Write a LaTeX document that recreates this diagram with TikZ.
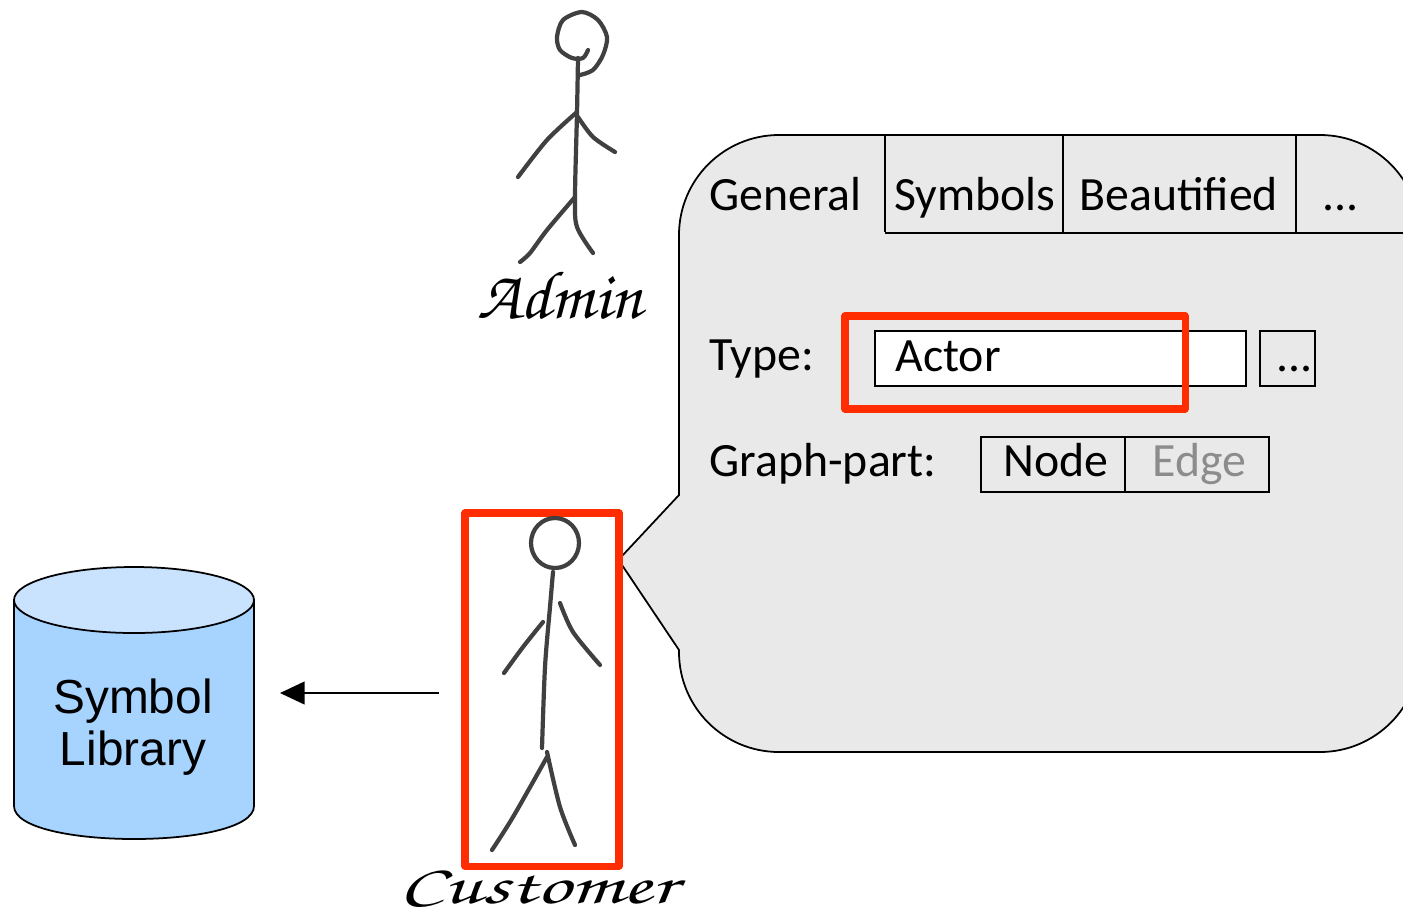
\documentclass[tikz,border=0pt]{standalone}
\usepackage{fontspec}
\setmainfont{Carlito}
\newfontfamily\libfont{Liberation Sans}
\usetikzlibrary{arrows.meta}
\definecolor{markred}{RGB}{255,45,0}
\definecolor{libbody}{RGB}{167,211,255}
\definecolor{libtop}{RGB}{201,227,255}
\tikzset{
  uitext/.style={anchor=base west, inner sep=0pt, font=\fontsize{27.2}{30}\selectfont},
  uibox/.style={draw=black, line width=1pt, inner sep=0pt, minimum height=55*0.02cm},
  redbox/.style={draw=markred, line width=4pt, line join=round, inner sep=0pt},
  sketch/.style={line width=2.4pt, draw=black!75, line cap=round, line join=round},
  hand/.style={inner sep=0pt, font=\fontencoding{T1}\fontfamily{pzc}\fontseries{m}\fontshape{it}\fontsize{37}{37}\selectfont}
}
\begin{document}
\begin{tikzpicture}[x=0.02cm,y=-0.02cm]
\useasboundingbox (0,0) rectangle (1403,914);
\clip (0,0) rectangle (1403,914);

% callout
\draw[fill=black!8.5, line width=1pt] (622,556) -- (679,495) [rounded corners=2cm] -- (679,135) -- (1420,135) -- (1420,752) -- (679,752) [sharp corners] -- (679,650) -- (622,565);
\draw[line width=1pt] (885,135) -- (885,232);
\draw[line width=1pt] (1063,135) -- (1063,232);
\draw[line width=1pt] (1296,135) -- (1296,232);
\draw[line width=1.2pt] (885,233) -- (1403,233);

\node[uitext] (general) at (709,210) {General};
\node[uitext] (symbols) at (894,210) {Symbols};
\node[uitext] (beautified) at (1079,210) {Beautified};
\node[uitext] (moretabs) at (1322,210) {...};
\node[uitext] (typelabel) at (709,370) {Type:};
\node[uitext] (partlabel) at (709,476) {Graph-part:};

\node[uibox, fill=white, minimum width=371*0.02cm] (typefield) at (1060.5,358.5) {};
\node[uibox, minimum width=55*0.02cm] (typebtn) at (1287.5,358.5) {};
\node[uibox, minimum width=144*0.02cm] (nodebtn) at (1053,464.5) {};
\node[uibox, minimum width=144*0.02cm] (edgebtn) at (1197,464.5) {};
\node[uitext] (actor) at (895,371) {Actor};
\node[uitext] (dots) at (1276,371) {...};
\node[uitext] (nodetxt) at (1003,476) {Node};
\node[uitext, text=black!45] (edgetxt) at (1152,476) {Edge};

\node[redbox, minimum width=340*0.02cm, minimum height=93*0.02cm] (typemark) at (1015,362.5) {};
\node[redbox, minimum width=154*0.02cm, minimum height=353*0.02cm] (customermark) at (542,689.5) {};

% library
\fill[libbody] (14,600) -- (14,806) .. controls (14,850) and (254,850) .. (254,806) -- (254,600) -- cycle;
\draw[line width=1pt] (14,600) -- (14,806) .. controls (14,850) and (254,850) .. (254,806) -- (254,600);
\draw[line width=1pt, fill=libtop] (134,600) ellipse (120 and 33);
\node[inner sep=0pt, align=center, font=\libfont\fontsize{27.2}{30}\selectfont] (library) at (133,727) {Symbol\\Library};

\coordinate (arrowtail) at (439,693);
\coordinate (arrowend) at (280,693);
\draw[-{Triangle[length=14pt,width=13pt]}, line width=.8pt] (arrowtail) -- (arrowend);

% admin
\draw[sketch] plot[smooth] coordinates {(588,50) (583,58) (572,58) (560,50) (557,37) (563,20) (582,12) (598,20) (607,37) (603,55) (593,70) (580,75)};
\draw[sketch] plot[smooth] coordinates {(578,58) (577,113) (575,197) (577,227) (593,253)};
\draw[sketch] plot[smooth] coordinates {(577,112) (547,140) (518,177)};
\draw[sketch] plot[smooth] coordinates {(578,117) (593,137) (615,152)};
\draw[sketch] plot[smooth] coordinates {(575,197) (547,230) (530,253) (520,262)};
\node[hand, xscale=1.07, yscale=1.05] (admin) at (560,295) {Admin};

% customer
\draw[sketch] (555,543) ellipse (24 and 25);
\draw[sketch] plot[smooth] coordinates {(553,572) (550,607) (545,667) (542,748)};
\draw[sketch] plot[smooth] coordinates {(543,622) (523,647) (504,673)};
\draw[sketch] plot[smooth] coordinates {(560,603) (573,632) (600,665)};
\draw[sketch] plot[smooth] coordinates {(547,757) (513,817) (492,850)};
\draw[sketch] plot[smooth] coordinates {(547,752) (560,807) (575,845)};
\node[hand, xscale=1.3, yscale=.85] (customer) at (538,887) {Customer};
\end{tikzpicture}
\end{document}
